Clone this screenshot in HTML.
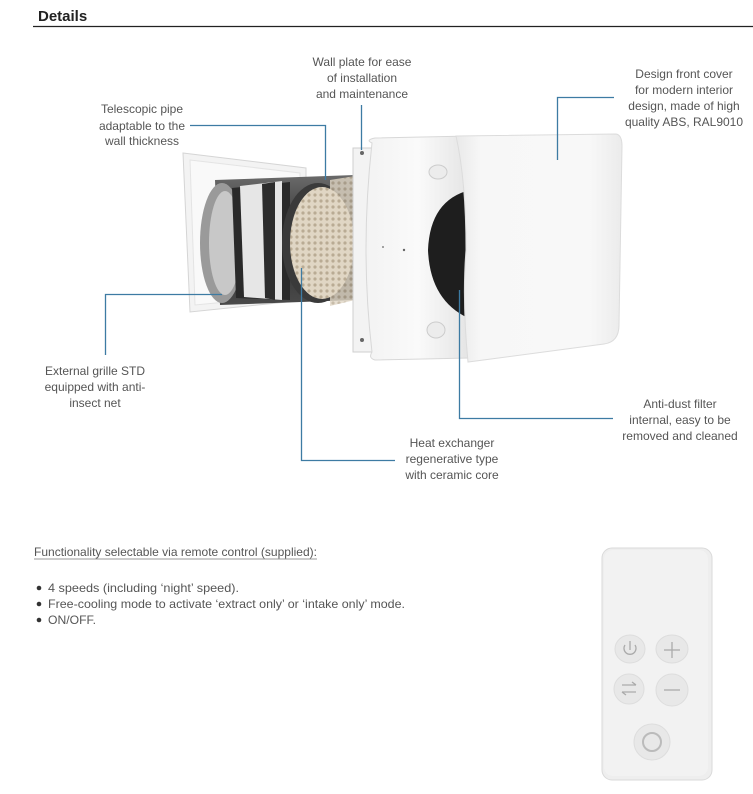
<!DOCTYPE html>
<html><head><meta charset="utf-8"><style>
html,body{margin:0;padding:0;background:#fff;}
svg{display:block;}
text{font-family:"Liberation Sans",sans-serif;}
</style></head><body>
<svg width="753" height="794" viewBox="0 0 753 794" xmlns="http://www.w3.org/2000/svg">
<defs>
<linearGradient id="cov" x1="0" y1="0" x2="1" y2="0">
<stop offset="0" stop-color="#e9e9e9"/><stop offset="0.15" stop-color="#f7f7f7"/><stop offset="0.8" stop-color="#f8f8f8"/><stop offset="1" stop-color="#ebebeb"/></linearGradient>
<linearGradient id="hous" x1="0" y1="0" x2="1" y2="0">
<stop offset="0" stop-color="#f3f3f3"/><stop offset="0.5" stop-color="#fafafa"/><stop offset="1" stop-color="#e4e4e4"/></linearGradient>
<linearGradient id="pipe" x1="0" y1="0" x2="0" y2="1">
<stop offset="0" stop-color="#6a6a6a"/><stop offset="0.5" stop-color="#2c2c2c"/><stop offset="1" stop-color="#4a4a4a"/></linearGradient>
<pattern id="hex" width="6" height="6" patternUnits="userSpaceOnUse"><rect width="6" height="6" fill="#e0d6c4"/><circle cx="3" cy="3" r="1.6" fill="#b9ab94"/></pattern>
</defs>
<text x="38" y="21" font-size="15" font-weight="bold" fill="#222">Details</text>
<line x1="33" y1="26.5" x2="753" y2="26.5" stroke="#222" stroke-width="1.2"/>

<!-- outer grille plate -->
<path d="M183,153 L306,168 L306,300 L190,312 Z" fill="#f3f3f3" stroke="#d5d5d5"/>
<path d="M190,160 L300,173 L300,295 L195,305 Z" fill="#f9f9f9" stroke="#e4e4e4"/>
<!-- pipe body -->
<path d="M215,180 L355,175 L355,300 L220,305 Z" fill="url(#pipe)"/>
<ellipse cx="222" cy="243" rx="22" ry="60" fill="#9a9a9a"/>
<ellipse cx="225" cy="243" rx="16" ry="52" fill="#c8c8c8"/>
<path d="M232,188 L290,182 L290,300 L236,298 Z" fill="#2a2a2a"/>
<path d="M240,186 L282,181 L282,300 L244,297 Z" fill="#e6e6e6"/>
<path d="M262,184 L275,182 L275,300 L265,298 Z" fill="#2d2d2d"/>
<ellipse cx="318" cy="243" rx="36" ry="60" fill="#3a3a3a"/>
<ellipse cx="322" cy="243" rx="32" ry="56" fill="url(#hex)"/>
<path d="M330,180 L355,176 L355,300 L330,306 Z" fill="url(#hex)" opacity="0.8"/>
<!-- wall plate -->
<rect x="353" y="148" width="20" height="204" fill="#f3f3f3" stroke="#cfcfcf"/>
<circle cx="362" cy="153" r="2" fill="#666"/><circle cx="362" cy="340" r="2" fill="#666"/>
<!-- housing -->
<path d="M372,143 Q365,140 375,138 L470,136 L470,358 L375,360 Q368,358 372,352 Q360,250 372,143 Z" fill="url(#hous)" stroke="#d8d8d8"/>
<circle cx="404" cy="250" r="1.2" fill="#666"/><circle cx="383" cy="247" r="1" fill="#888"/>
<ellipse cx="438" cy="172" rx="9" ry="7" fill="#ececec" stroke="#ccc"/>
<ellipse cx="436" cy="330" rx="9" ry="8" fill="#ececec" stroke="#ccc"/>
<!-- filter -->
<path d="M470,190 Q430,200 428,250 Q430,300 468,318 Z" fill="#1e1e1e"/>
<!-- front cover -->
<path d="M456,136 L616,134 Q622,135 622,146 L619,325 Q619,342 604,344 L468,362 Q462,300 466,250 Q466,180 456,136 Z" fill="url(#cov)" stroke="#dcdcdc"/>

<!-- connectors -->
<g stroke="#3d7ba3" stroke-width="1.3" fill="none">
<polyline points="190,125.5 325.5,125.5 325.5,180"/>
<polyline points="361.5,105 361.5,150"/>
<polyline points="614,97.5 557.5,97.5 557.5,160"/>
<polyline points="222,294.5 105.5,294.5 105.5,355"/>
<polyline points="301.5,268 301.5,460.5 395,460.5"/>
<polyline points="459.5,290 459.5,418.5 613,418.5"/>
</g>

<g font-size="12" fill="#555" text-anchor="middle">
<text x="362" y="66">Wall plate for ease</text>
<text x="362" y="82">of installation</text>
<text x="362" y="98">and maintenance</text>
<text x="142" y="113">Telescopic pipe</text>
<text x="142" y="130">adaptable to the</text>
<text x="142" y="145">wall thickness</text>
<text x="684" y="78">Design front cover</text>
<text x="684" y="94">for modern interior</text>
<text x="684" y="110">design, made of high</text>
<text x="684" y="126">quality ABS, RAL9010</text>
<text x="95" y="375">External grille STD</text>
<text x="95" y="391">equipped with anti-</text>
<text x="95" y="407">insect net</text>
<text x="680" y="408">Anti-dust filter</text>
<text x="680" y="424">internal, easy to be</text>
<text x="680" y="440">removed and cleaned</text>
<text x="452" y="447">Heat exchanger</text>
<text x="452" y="463">regenerative type</text>
<text x="452" y="479">with ceramic core</text>
</g>

<g font-size="12" fill="#555">
<text x="34" y="556" textLength="283" lengthAdjust="spacingAndGlyphs">Functionality selectable via remote control (supplied):</text>
<line x1="34" y1="559" x2="317" y2="559" stroke="#777" stroke-width="0.8"/>
<circle cx="39" cy="588" r="2.3" fill="#333"/>
<circle cx="39" cy="604" r="2.3" fill="#333"/>
<circle cx="39" cy="620" r="2.3" fill="#333"/>
<text x="48" y="592" textLength="191" lengthAdjust="spacingAndGlyphs">4 speeds (including ‘night’ speed).</text>
<text x="48" y="608" textLength="357" lengthAdjust="spacingAndGlyphs">Free-cooling mode to activate ‘extract only’ or ‘intake only’ mode.</text>
<text x="48" y="624" textLength="48" lengthAdjust="spacingAndGlyphs">ON/OFF.</text>
</g>

<!-- remote -->
<rect x="602" y="548" width="110" height="232" rx="10" fill="#eeeeee" stroke="#dadada"/>
<rect x="604" y="550" width="104" height="226" rx="9" fill="#f2f2f2"/>
<g fill="#e8e8e8" stroke="#dddddd">
<ellipse cx="630" cy="649" rx="15" ry="14"/>
<ellipse cx="672" cy="649" rx="16" ry="14"/>
<ellipse cx="629" cy="689" rx="15" ry="15"/>
<ellipse cx="672" cy="690" rx="16" ry="16"/>
<ellipse cx="652" cy="742" rx="18" ry="18"/>
</g>
<g stroke="#aaa" fill="none" stroke-width="1.3">
<path d="M625,645 A6,6 0 1,0 635,645"/><line x1="630" y1="641" x2="630" y2="650"/>
<line x1="664" y1="650" x2="680" y2="650"/><line x1="672" y1="642" x2="672" y2="658"/>
<line x1="664" y1="690" x2="680" y2="690"/>
<path d="M622,685 L636,685 M632,682 L636,685 M622,692 L636,692 M626,695 L622,692"/>
<circle cx="652" cy="742" r="9" stroke="#bbb" stroke-width="2"/>
</g>
</svg>
</body></html>
